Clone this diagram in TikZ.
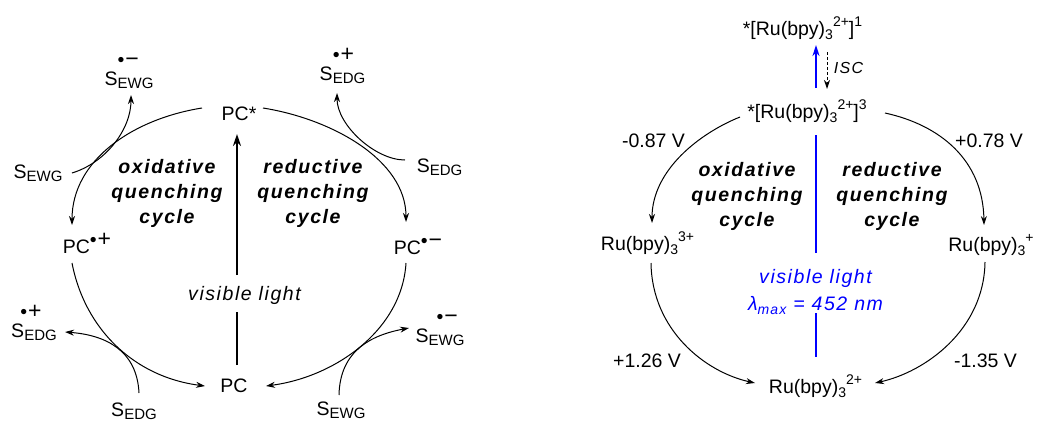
\documentclass[tikz,border=0pt]{standalone}
\usepackage{fontspec}
\setmainfont{Liberation Sans}
\newfontfamily\spaced[LetterSpace=8]{Liberation Sans}
\usetikzlibrary{arrows.meta}
\newcommand{\subs}[1]{\raisebox{-4pt}{\fontsize{14}{14}\selectfont #1}}
\newcommand{\sups}[1]{\raisebox{9pt}{\fontsize{14}{14}\selectfont #1}}
\newcommand{\grp}[1]{\raisebox{-3pt}{\fontsize{15}{15}\selectfont #1}}
\newcommand{\sgn}[1]{•\kern1pt{\fontsize{23}{23}\selectfont #1}}
\newcommand{\radup}[2][0pt]{\rlap{\kern#1\raisebox{19pt}{\sgn{#2}}}}
\newcommand{\radsup}[1]{\raisebox{7pt}{\sgn{#1}}}
\begin{document}
\begin{tikzpicture}[x=1pt,y=-1pt,
  every node/.style={inner sep=0pt,anchor=base,font=\fontsize{19.5}{23}\selectfont},
  cyc/.style={line width=1pt,-{Stealth[length=9pt,width=6pt]}},
  lbl/.style={anchor=center,align=center,font=\fontsize{19.5}{25}\selectfont\spaced\bfseries\itshape},
  light/.style={font=\fontsize{19.5}{23}\selectfont\spaced\itshape},
  hv/.style={line width=2.2pt},
  blu/.style={blue,line width=2.5pt}]
  \clip (0,0) rectangle (1038,421);
  % left cycle
  \node (pcs) at (239,120) {PC*};
  \node (pcox) at (87,253) {PC\radsup{+}};
  \node (pcred) at (418,254) {PC\radsup{−}};
  \node (pc) at (234,392) {PC};
  \node[light] (vl) at (244.5,300) {visible light};
  \node[lbl] (oxl) at (167,193) {oxidative\\quenching\\cycle};
  \node[lbl] (redl) at (313,193) {reductive\\quenching\\cycle};
  \node (ewga) at (38,178) {S\grp{EWG}};
  \node (ewgb) at (129,85) {S\radup{−}\grp{EWG}};
  \node (edga) at (439.5,172) {S\grp{EDG}};
  \node (edgb) at (342.5,80) {S\radup{+}\grp{EDG}};
  \node (edgc) at (134,416) {S\grp{EDG}};
  \node (edgd) at (34,337) {S\radup[-4pt]{+}\grp{EDG}};
  \node (ewgc) at (341,415) {S\grp{EWG}};
  \node (ewgd) at (440,342) {S\radup[8pt]{−}\grp{EWG}};
  \draw[cyc] ([shift={(-37,-12)}]pcs.base) .. controls +(-69,11) and +(0,-65) .. ([shift={(-15,-28)}]pcox.base);
  \draw[cyc] ([shift={(24,-12)}]pcs.base) .. controls +(69,11) and +(0,-62) .. ([shift={(-12,-32)}]pcred.base);
  \draw[cyc] ([shift={(-15,10)}]pcox.base) .. controls +(13,67) and +(-70,-9) .. ([shift={(-29,-6)}]pc.base);
  \draw[cyc] ([shift={(-12,9)}]pcred.base) .. controls +(-4,67) and +(69,-9) .. ([shift={(32,-6)}]pc.base);
  \draw[cyc] ([shift={(34,-5)}]ewga.base) .. controls +(33,-10) and +(0,35) .. ([shift={(2,10)}]ewgb.base);
  \draw[cyc] ([shift={(-34.5,-12)}]edga.base) .. controls +(-30,0) and +(0,32) .. ([shift={(-5.5,13)}]edgb.base);
  \draw[cyc] ([shift={(5,-23)}]edgc.base) .. controls +(-2,-43) and +(40,3) .. ([shift={(31,-5)}]edgd.base);
  \draw[cyc] ([shift={(-2,-20)}]ewgc.base) .. controls +(1,-45) and +(-37,7) .. ([shift={(-31,-14)}]ewgd.base);
  \draw[hv] ([shift={(3,-27)}]pc.base) -- ([shift={(-7.5,12)}]vl.base);
  \draw[hv,-{Stealth[length=12pt,width=8pt]}] ([shift={(-7.5,-25)}]vl.base) -- ([shift={(-2,14)}]pcs.base);
  % right cycle
  \node (sing) at (802.5,35) {*[Ru(bpy)\subs{3}\sups{2+}]\sups{1}};
  \node (trip) at (807,118) {*[Ru(bpy)\subs{3}\sups{2+}]\sups{3}};
  \node (ruox) at (647.5,250) {Ru(bpy)\subs{3}\sups{3+}};
  \node (rured) at (991,251) {Ru(bpy)\subs{3}\sups{+}};
  \node (ru) at (815.5,393) {Ru(bpy)\subs{3}\sups{2+}};
  \node (v1) at (653.5,147) {-0.87 V};
  \node (v2) at (989,147) {+0.78 V};
  \node (v3) at (647,367) {+1.26 V};
  \node (v4) at (985.5,367) {-1.35 V};
  \node[light,font=\fontsize{16}{16}\selectfont\spaced\itshape] (isc) at (848.5,73) {ISC};
  \node[light,text=blue] (vis) at (815.5,283) {visible light};
  \node[light,text=blue] (lam) at (815.5,310) {λ\subs{max} = 452 nm};
  \node[lbl] (oxr) at (747,196) {oxidative\\quenching\\cycle};
  \node[lbl] (redr) at (892,196) {reductive\\quenching\\cycle};
  \draw[blu,-{Stealth[length=11pt,width=7pt]}] ([shift={(9,-30)}]trip.base) -- ([shift={(13.5,10)}]sing.base);
  \draw[line width=1pt,dash pattern=on 3pt off 2pt,-{Stealth[length=9pt,width=6pt]}] ([shift={(24.5,17)}]sing.base) -- ([shift={(20,-29)}]trip.base);
  \draw[blu] ([shift={(9,17)}]trip.base) -- ([shift={(0.5,-30)}]vis.base);
  \draw[blu] ([shift={(0.5,3)}]lam.base) -- ([shift={(0.5,-36)}]ru.base);
  \draw[cyc] ([shift={(-67,-1)}]trip.base) .. controls +(-40,16) and +(0,-53) .. ([shift={(4.5,-27)}]ruox.base);
  \draw[cyc] ([shift={(78,-5)}]trip.base) .. controls +(55,12) and +(-1,-65) .. ([shift={(-7,-26)}]rured.base);
  \draw[cyc] ([shift={(3.5,13)}]ruox.base) .. controls +(1,67) and +(-50,-11) .. ([shift={(-60.5,-10)}]ru.base);
  \draw[cyc] ([shift={(-6,11)}]rured.base) .. controls +(-1,68) and +(50,-11) .. ([shift={(59.5,-10)}]ru.base);
\end{tikzpicture}
\end{document}
